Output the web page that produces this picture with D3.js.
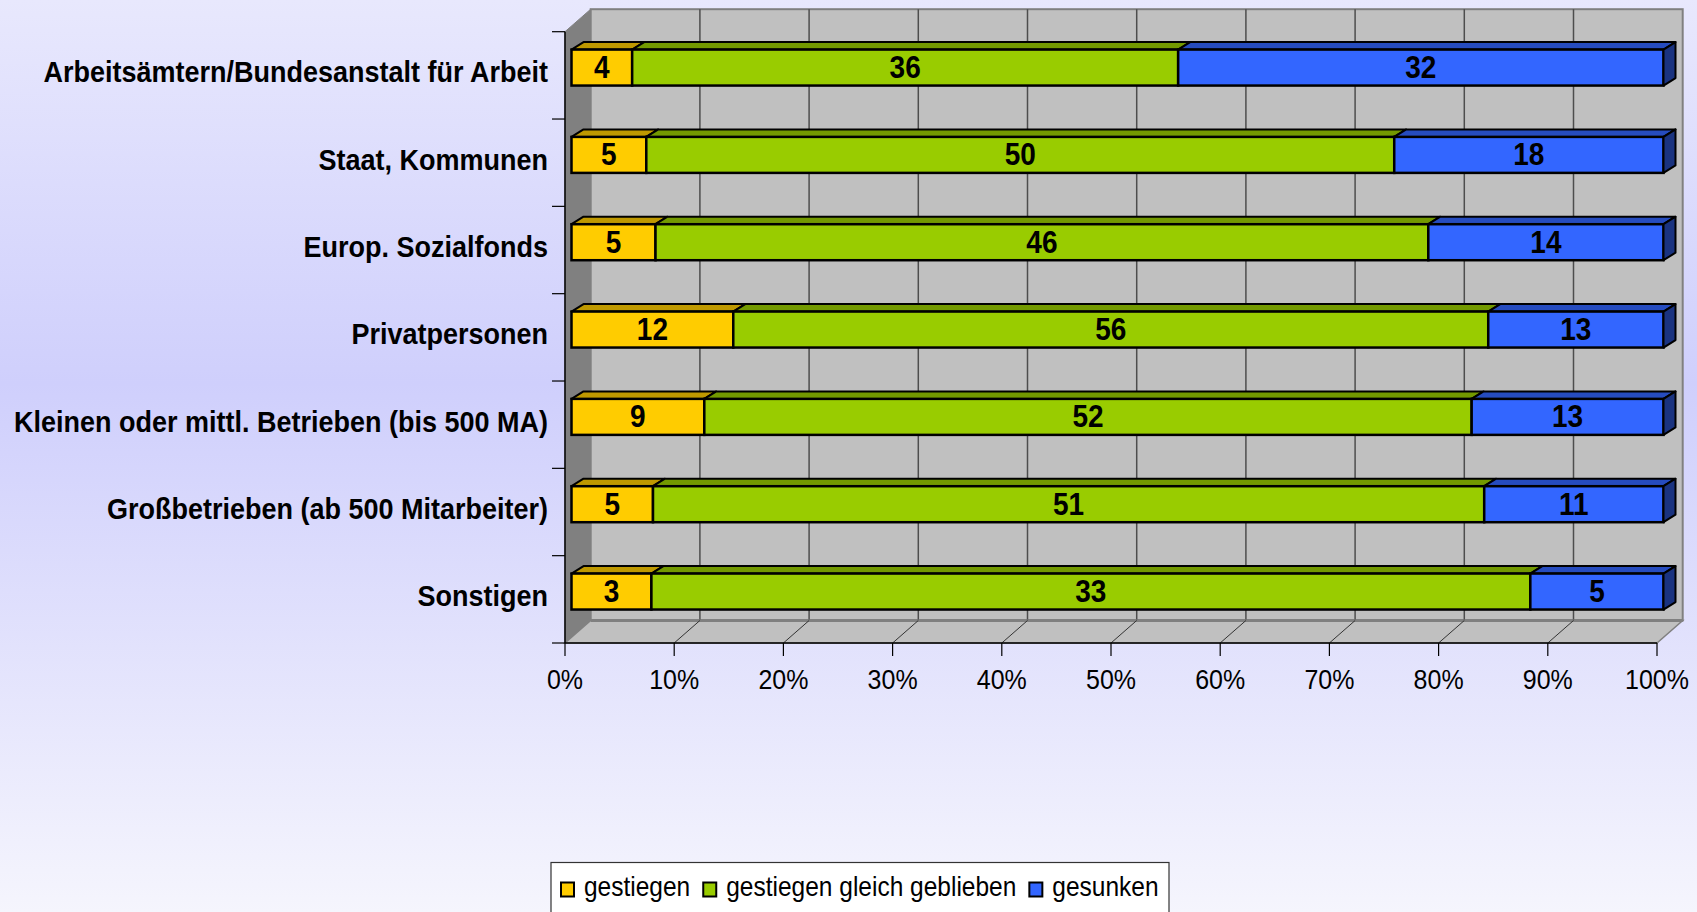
<!DOCTYPE html>
<html>
<head>
<meta charset="utf-8">
<script src="https://cdn.jsdelivr.net/npm/d3@7"></script>
<style>
  body { margin: 0; overflow: hidden; }
  svg { display: block; font-family: "Liberation Sans", Arial, sans-serif; }
</style>
</head>
<body>
<svg width="1697" height="912"></svg>
<script>
// data
const categories = [
    'Arbeitsämtern/Bundesanstalt für Arbeit',
    'Staat, Kommunen',
    'Europ. Sozialfonds',
    'Privatpersonen',
    'Kleinen oder mittl. Betrieben (bis 500 MA)',
    'Großbetrieben (ab 500 Mitarbeiter)',
    'Sonstigen'
]
const gestiegen = [4, 5, 5, 12, 9, 5, 3]
const gleichGeblieben = [36, 50, 46, 56, 52, 51, 33]
const gesunken = [32, 18, 14, 13, 13, 11, 5]
const seriesNames = ['gestiegen', 'gestiegen gleich geblieben', 'gesunken']
const tickValues = [0, 10, 20, 30, 40, 50, 60, 70, 80, 90, 100]

const colors = ['#ffcc00', '#99cc00', '#3366ff']
const topColors = ['#bf9900', '#739900', '#264cbf']
const sideColors = ['#806600', '#4d6600', '#1a3380']

const svg = d3.select('svg')
const width = +svg.attr('width')
const height = +svg.attr('height')

// background gradient
const defs = svg.append('defs')
const grad = defs.append('linearGradient')
    .attr('id', 'bg').attr('x1', 0).attr('y1', 0).attr('x2', 0).attr('y2', 1)
grad.append('stop').attr('offset', '0%').attr('stop-color', '#e8e8fd')
grad.append('stop').attr('offset', '42%').attr('stop-color', '#cfcffc')
grad.append('stop').attr('offset', '100%').attr('stop-color', '#f5f5fd')
svg.append('rect').attr('width', width).attr('height', height).attr('fill', 'url(#bg)')

// scales
const xScale = d3.scaleLinear().domain([0, 100]).range([565, 1657])
const yScale = d3.scaleBand().domain(categories).range([31.7, 643])

// 3d offsets
const wallDx = 25.7, wallDy = -22.5
const barShiftX = 6.5, barShiftY = -7.8, barH = 36
const barDx = 12, barDy = -7.5

const x0 = xScale(0), x1 = xScale(100)
const yTop = yScale.range()[0], yBot = yScale.range()[1]

const vis = svg.append('g')
const poly = pts => pts.map(p => p.join(',')).join(' ')

// left wall
vis.append('polygon')
    .attr('points', poly([[x0, yTop], [x0 + wallDx, yTop + wallDy], [x0 + wallDx, yBot + wallDy], [x0, yBot]]))
    .attr('fill', '#808080').attr('stroke', '#808080')
// back wall
vis.append('rect')
    .attr('x', x0 + wallDx).attr('y', yTop + wallDy)
    .attr('width', x1 - x0).attr('height', yBot - yTop)
    .attr('fill', '#c0c0c0').attr('stroke', '#808080').attr('stroke-width', 2)
// floor
vis.append('polygon')
    .attr('points', poly([[x0, yBot], [x0 + wallDx, yBot + wallDy], [x1 + wallDx, yBot + wallDy], [x1, yBot]]))
    .attr('fill', '#c0c0c0').attr('stroke', '#808080').attr('stroke-width', 1.5)
vis.append('line')
    .attr('x1', x0 + wallDx).attr('x2', x1 + wallDx)
    .attr('y1', yBot + wallDy).attr('y2', yBot + wallDy)
    .attr('stroke', '#808080').attr('stroke-width', 3)

// gridlines on back wall and floor
const inner = tickValues.slice(1, -1)
vis.selectAll('line.grid').data(inner).enter().append('line')
    .attr('class', 'grid')
    .attr('x1', d => xScale(d) + wallDx).attr('x2', d => xScale(d) + wallDx)
    .attr('y1', yTop + wallDy).attr('y2', yBot + wallDy - 1)
    .attr('stroke', '#4d4d4d').attr('stroke-width', 1.5)
vis.selectAll('line.floor').data(inner).enter().append('line')
    .attr('class', 'floor')
    .attr('x1', d => xScale(d)).attr('x2', d => xScale(d) + wallDx)
    .attr('y1', yBot).attr('y2', yBot + wallDy)
    .attr('stroke', '#333').attr('stroke-width', 1)

// bars
const rows = categories.map((c, i) => {
    const vals = [gestiegen[i], gleichGeblieben[i], gesunken[i]]
    const total = d3.sum(vals)
    let acc = 0
    const segs = vals.map((v, k) => {
        const s = { k, v, p0: acc / total * 100, p1: (acc + v) / total * 100 }
        acc += v
        return s
    })
    return { c, segs }
})

function addText(g, x, y, str) {
    return g.append('text')
        .attr('transform', `translate(${x},${y}) scale(1,1.1)`)
        .text(str)
}

rows.forEach(row => {
    const g = vis.append('g')
    const yc = yScale(row.c) + yScale.bandwidth() / 2 + barShiftY
    const yt = yc - barH / 2
    row.segs.forEach((s, idx) => {
        const xa = xScale(s.p0) + barShiftX
        const xb = xScale(s.p1) + barShiftX
        g.append('polygon')
            .attr('points', poly([[xa, yt], [xa + barDx, yt + barDy], [xb + barDx, yt + barDy], [xb, yt]]))
            .attr('fill', topColors[s.k]).attr('stroke', '#000').attr('stroke-width', 2)
            .attr('stroke-linejoin', 'round')
        g.append('rect')
            .attr('x', xa).attr('y', yt).attr('width', xb - xa).attr('height', barH)
            .attr('fill', colors[s.k]).attr('stroke', '#000').attr('stroke-width', 2.5)
        if (idx === row.segs.length - 1) {
            g.append('polygon')
                .attr('points', poly([[xb, yt], [xb + barDx, yt + barDy], [xb + barDx, yt + barDy + barH], [xb, yt + barH]]))
                .attr('fill', sideColors[s.k]).attr('stroke', '#000').attr('stroke-width', 2)
                .attr('stroke-linejoin', 'round')
        }
    })
    row.segs.forEach(s => {
        const xm = (xScale(s.p0) + xScale(s.p1)) / 2 + barShiftX
        addText(g, xm, yc + 10.5, s.v)
            .attr('text-anchor', 'middle')
            .attr('font-weight', 'bold').attr('font-size', 28)
    })
})

// axes
const axisG = svg.append('g')
axisG.append('line')
    .attr('x1', x0).attr('x2', x0).attr('y1', yTop).attr('y2', yBot)
    .attr('stroke', '#000').attr('stroke-width', 1.5)
axisG.append('line')
    .attr('x1', x0).attr('x2', x1).attr('y1', yBot).attr('y2', yBot)
    .attr('stroke', '#000').attr('stroke-width', 1.5)
const bounds = categories.map(c => yScale(c)).concat([yBot])
axisG.selectAll('line.ytick').data(bounds).enter().append('line')
    .attr('x1', x0 - 13).attr('x2', x0).attr('y1', d => d).attr('y2', d => d)
    .attr('stroke', '#000').attr('stroke-width', 1.2)
axisG.selectAll('line.xtick').data(tickValues).enter().append('line')
    .attr('x1', d => xScale(d)).attr('x2', d => xScale(d))
    .attr('y1', yBot).attr('y2', yBot + 13)
    .attr('stroke', '#000').attr('stroke-width', 1.2)

tickValues.forEach(t => {
    addText(axisG, xScale(t), yBot + 46, t + '%')
        .attr('text-anchor', 'middle').attr('font-size', 25)
})
categories.forEach(c => {
    addText(axisG, 548, yScale(c) + yScale.bandwidth() / 2 + 7, c)
        .attr('text-anchor', 'end')
        .attr('font-weight', 'bold').attr('font-size', 27)
})

// legend
const legend = svg.append('g')
legend.append('rect')
    .attr('x', 551).attr('y', 862.5).attr('width', 618).attr('height', 80)
    .attr('fill', '#fff').attr('stroke', '#333').attr('stroke-width', 1.2)
let lx = 561
seriesNames.forEach((name, k) => {
    legend.append('rect')
        .attr('x', lx).attr('y', 882.5).attr('width', 13).attr('height', 14)
        .attr('fill', colors[k]).attr('stroke', '#000').attr('stroke-width', 2)
    const t = addText(legend, lx + 23, 896, name).attr('font-size', 24.5)
    lx += 23 + t.node().getComputedTextLength() + 13
})
</script>
</body>
</html>
